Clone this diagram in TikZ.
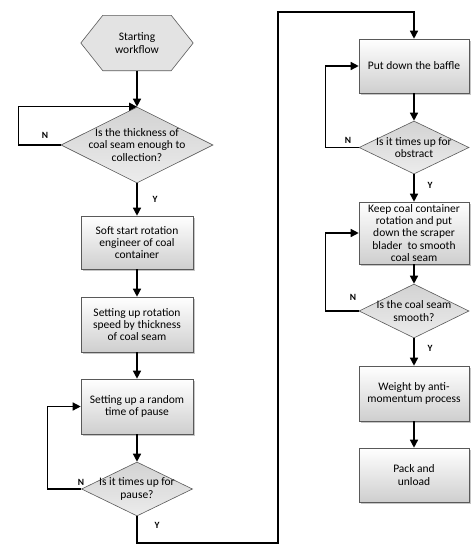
\documentclass[tikz,border=0pt]{standalone}
\usepackage{fontspec}
\setmainfont{Carlito}
\usetikzlibrary{arrows.meta,shadows,backgrounds,shapes.geometric}
\tikzset{
  every node/.style={font=\fontsize{11.5}{12.3}\selectfont},
  box/.style={rectangle, draw=black!65, line width=0.6pt, top color=white, bottom color=gray!38,
    minimum width=112pt, align=center, inner sep=1pt,
    drop shadow={shadow xshift=1.5pt, shadow yshift=-1.5pt, opacity=0.45}},
  dia/.style={diamond, draw=black!65, line width=0.6pt, top color=gray!35, bottom color=gray!15, inner sep=0pt},
  dtext/.style={align=center, inner sep=0pt},
  conn/.style={line width=1.4pt, -{Triangle[length=8pt,width=8pt]}},
  yn/.style={font=\fontsize{9.5}{10}\selectfont\bfseries}
}
\begin{document}
\begin{tikzpicture}[x=1pt,y=-1pt]
\useasboundingbox (0,0) rectangle (474,555);
% left column
\node[rectangle, minimum width=112pt, minimum height=55pt, align=center, inner sep=0pt] (hex) at (137,43) {Starting\\workflow};
\begin{scope}[on background layer]
\draw[draw=black!65, line width=0.6pt, fill=gray!22]
  (hex.west) -- ([xshift=22pt]hex.north west) -- ([xshift=-22pt]hex.north east) -- (hex.east)
  -- ([xshift=-22pt]hex.south east) -- ([xshift=22pt]hex.south west) -- cycle;
\end{scope}
\node[dia, minimum width=152pt, minimum height=76pt] (d1) at (137,145) {};
\node[dtext] (d1t) at (d1.center) {Is the thickness of\\coal seam enough to\\collection?};
\node[box, minimum height=53pt] (b1) at (137,242.5) {Soft start rotation\\engineer of coal\\container};
\node[box, minimum height=55pt] (b2) at (137,324.5) {Setting up rotation\\speed by thickness\\of coal seam};
\node[box, minimum height=55pt] (b3) at (137,406.5) {Setting up a random\\time of pause};
\node[dia, minimum width=111pt, minimum height=54pt] (d2) at (137,489) {};
\node[dtext] (d2t) at (d2.center) {Is it times up for\\pause?};
% right column
\node[box, minimum width=110pt, minimum height=54pt] (b4) at (414,66) {Put down the baffle};
\node[dia, minimum width=110pt, minimum height=53pt] (d3) at (414,147.5) {};
\node[dtext] (d3t) at (d3.center) {Is it times up for\\obstract};
\node[box, minimum width=110pt, minimum height=62pt] (b5) at (414,233) {Keep coal container\\rotation and put\\down the scraper\\blader\ \ to smooth\\coal seam};
\node[dia, minimum width=110pt, minimum height=54pt] (d4) at (414,311) {};
\node[dtext] (d4t) at (d4.center) {Is the coal seam\\smooth?};
\node[box, minimum width=110pt, minimum height=55pt] (b6) at (414,393.5) {Weight by anti-\\momentum process};
\node[box, minimum width=110pt, minimum height=54pt] (b7) at (414,475) {Pack and\\unload};
% connectors
\coordinate (c1) at (278,543);
\coordinate (c2) at (278,12);
\draw[conn] (hex.south) -- (d1.north);
\draw[conn] (d1.west) -- ++(-42,0) |- (d1.north);
\draw[conn] (d1.south) -- (b1.north);
\draw[conn] (b1.south) -- (b2.north);
\draw[conn] (b2.south) -- (b3.north);
\draw[conn] (b3.south) -- (d2.north);
\draw[conn] (d2.west) -- ++(-34,0) |- (b3.west);
\draw[conn] (d2.south) |- (c1) -- (c2) -| (b4.north);
\draw[conn] (b4.south) -- (d3.north);
\draw[conn] (d3.west) -- ++(-33,0) |- (b4.west);
\draw[conn] (d3.south) -- (b5.north);
\draw[conn] (b5.south) -- (d4.north);
\draw[conn] (d4.west) -- ++(-33,0) |- (b5.west);
\draw[conn] (d4.south) -- (b6.north);
\draw[conn] (b6.south) -- (b7.north);
% labels
\node[yn] (n1) at (45,135) {N};
\node[yn] (y1) at (155,199) {Y};
\node[yn] (n2) at (81,482) {N};
\node[yn] (y2) at (157,525) {Y};
\node[yn] (n3) at (348,140) {N};
\node[yn] (y3) at (430,185) {Y};
\node[yn] (n4) at (353,297) {N};
\node[yn] (y4) at (430,348) {Y};
\end{tikzpicture}
\end{document}
